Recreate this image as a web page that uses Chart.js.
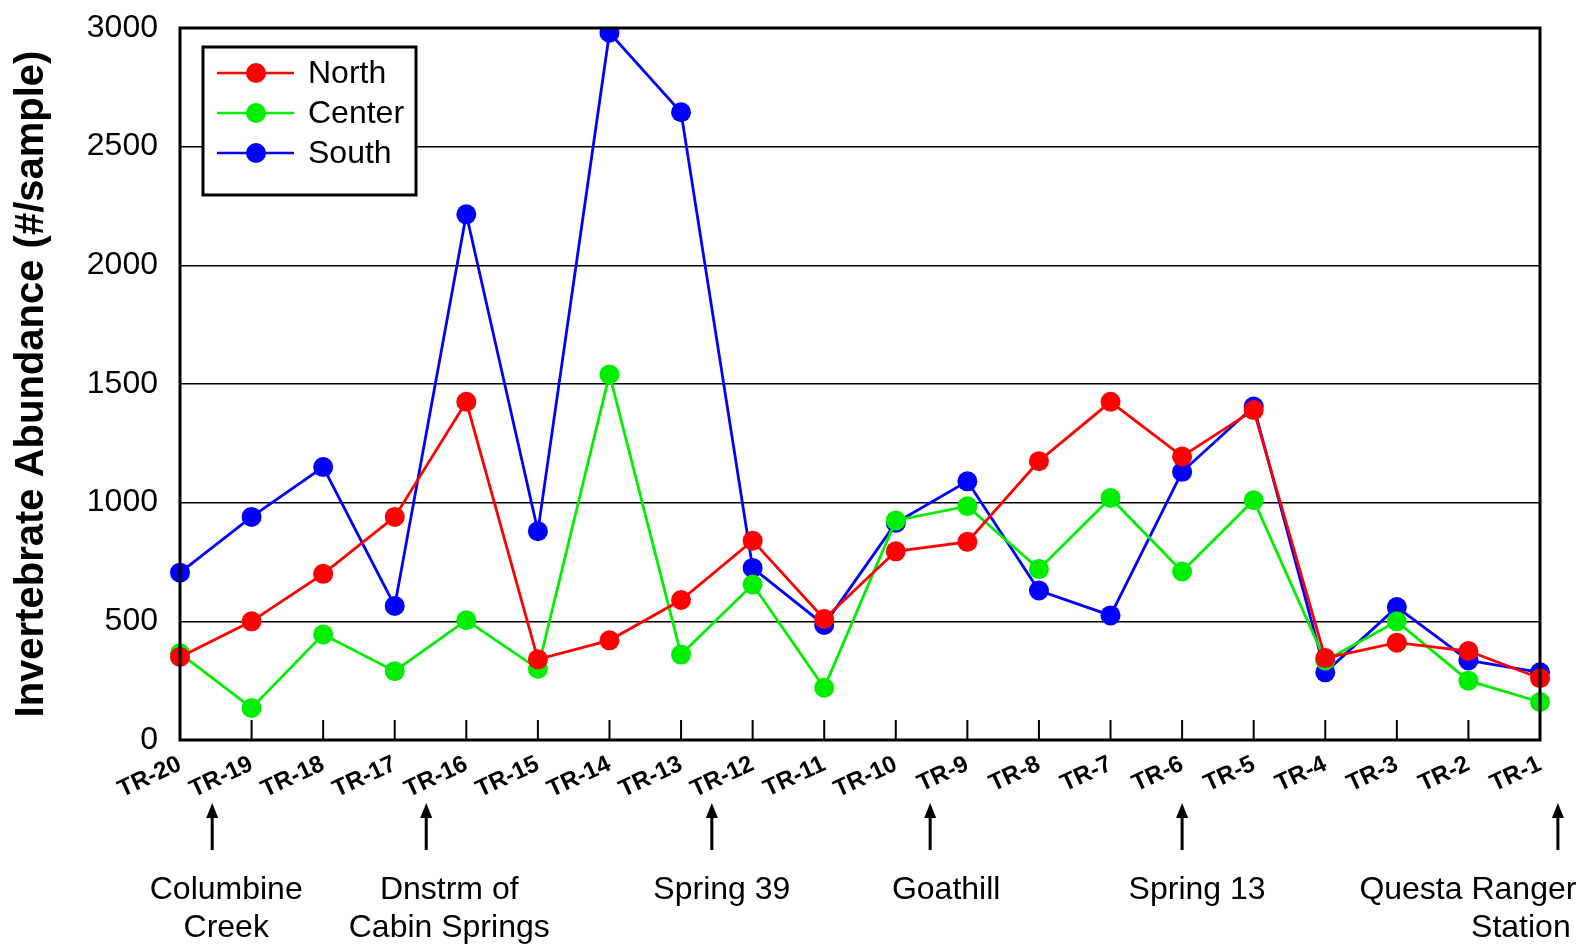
<!DOCTYPE html>
<html>
<head>
<meta charset="utf-8">
<script src="https://cdn.jsdelivr.net/npm/chart.js@4"></script>
<style>
  body { margin: 0; background: #fff; }
  canvas { display: block; }
</style>
</head>
<body>
<canvas id="abundanceChart" width="1587" height="947"></canvas>
<script>
const sites = ["TR-20", "TR-19", "TR-18", "TR-17", "TR-16", "TR-15", "TR-14", "TR-13", "TR-12", "TR-11",
    "TR-10", "TR-9", "TR-8", "TR-7", "TR-6", "TR-5", "TR-4", "TR-3", "TR-2", "TR-1"]

const north = [350, 500, 700, 940, 1425, 340, 420, 590, 840, 510, 795, 835, 1175, 1425, 1195, 1390, 345, 410, 375, 260]
const center = [365, 135, 445, 290, 505, 300, 1540, 360, 655, 220, 925, 985, 720, 1020, 710, 1010, 335, 500, 250, 160]
const south = [705, 940, 1150, 565, 2215, 880, 2980, 2645, 725, 485, 915, 1090, 630, 525, 1130, 1405, 285, 560, 335, 285]

const yTicks = [0, 500, 1000, 1500, 2000, 2500, 3000]

// landmarks under the axis: label lines and where the arrow points (in site index units)
const landmarks = [
    ["Columbine", "Creek"],
    ["Dnstrm of", "Cabin Springs"],
    ["Spring 39"],
    ["Goathill"],
    ["Spring 13"],
    ["Questa Ranger", "Station"]
]
const landmarkAt = [0.45, 3.44, 7.43, 10.48, 14, 19.25]

const FONT = "'Liberation Sans', Arial, sans-serif"

const series = [
    { label: "North", data: north, color: "#ff0000" },
    { label: "Center", data: center, color: "#00ee00" },
    { label: "South", data: south, color: "#0000ff" }
]

function indexToPixel(scale, pos) {
    const i = Math.floor(pos)
    const a = scale.getPixelForValue(i)
    const b = scale.getPixelForValue(i + 1)
    return a + (b - a) * (pos - i)
}

const framePlugin = {
    id: "frame",
    afterDatasetsDraw(chart) {
        const ctx = chart.ctx
        const area = chart.chartArea
        const x = chart.scales.x

        ctx.save()
        ctx.strokeStyle = "#000"

        // little ticks pointing up into the plot
        ctx.lineWidth = 2
        ctx.beginPath()
        sites.forEach((s, i) => {
            const px = x.getPixelForValue(i)
            ctx.moveTo(px, area.bottom)
            ctx.lineTo(px, area.bottom - 20)
        })
        ctx.stroke()

        ctx.lineWidth = 3
        ctx.strokeRect(area.left, area.top, area.right - area.left, area.bottom - area.top)

        // legend box
        const bx = 203, by = 47, bw = 213, bh = 148
        ctx.fillStyle = "#fff"
        ctx.fillRect(bx, by, bw, bh)
        ctx.strokeRect(bx, by, bw, bh)
        ctx.font = "32px " + FONT
        ctx.textBaseline = "middle"
        ctx.textAlign = "left"
        series.forEach((s, i) => {
            const ly = 73 + i * 40
            ctx.strokeStyle = s.color
            ctx.lineWidth = 2.5
            ctx.beginPath()
            ctx.moveTo(217, ly)
            ctx.lineTo(294, ly)
            ctx.stroke()
            ctx.fillStyle = s.color
            ctx.beginPath()
            ctx.arc(256, ly, 10, 0, Math.PI * 2)
            ctx.fill()
            ctx.fillStyle = "#000"
            ctx.fillText(s.label, 308, ly + 1)
        })
        ctx.restore()
    },
    afterDraw(chart) {
        const ctx = chart.ctx
        const x = chart.scales.x
        const textShift = [[14, 14], [23, 23], [10], [16], [15], [-90, -37]]

        ctx.save()
        ctx.fillStyle = "#000"
        ctx.strokeStyle = "#000"
        ctx.font = "32px " + FONT
        ctx.textAlign = "center"
        ctx.textBaseline = "middle"
        landmarks.forEach((lines, k) => {
            const ax = indexToPixel(x, landmarkAt[k])
            ctx.lineWidth = 3
            ctx.beginPath()
            ctx.moveTo(ax, 850)
            ctx.lineTo(ax, 814)
            ctx.stroke()
            ctx.beginPath()
            ctx.moveTo(ax, 803)
            ctx.lineTo(ax - 6, 818)
            ctx.lineTo(ax + 6, 818)
            ctx.closePath()
            ctx.fill()
            lines.forEach((t, j) => {
                ctx.fillText(t, ax + textShift[k][j], 890 + j * 38)
            })
        })
        ctx.restore()
    }
}

new Chart(document.getElementById("abundanceChart"), {
    type: "line",
    data: {
        labels: sites,
        datasets: series.map(s => ({
            label: s.label,
            data: s.data,
            borderColor: s.color,
            backgroundColor: s.color,
            pointBackgroundColor: s.color,
            pointBorderWidth: 0,
            pointRadius: 10,
            borderWidth: 2.8,
            tension: 0
        }))
    },
    options: {
        responsive: false,
        animation: false,
        devicePixelRatio: 1,
        layout: {
            padding: { top: 28, right: 47, bottom: 0, left: 0 }
        },
        scales: {
            x: {
                offset: false,
                grid: { display: false },
                border: { display: false },
                ticks: {
                    color: "#000",
                    font: { family: FONT, size: 24, weight: "bold" },
                    minRotation: 25,
                    maxRotation: 25,
                    autoSkip: false,
                    padding: 2
                },
                afterFit(scale) {
                    scale.height = 207
                    scale.paddingLeft = 0
                    scale.paddingRight = 0
                }
            },
            y: {
                min: 0,
                max: 3000,
                afterBuildTicks(scale) {
                    scale.ticks = yTicks.map(v => ({ value: v }))
                },
                grid: { color: "#000", lineWidth: 1.5, drawTicks: false },
                border: { display: false },
                ticks: {
                    color: "#000",
                    font: { family: FONT, size: 32 },
                    padding: 22,
                    callback: function(value) {
                        return String(value)
                    }
                },
                title: {
                    display: true,
                    text: "Invertebrate Abundance (#/sample)",
                    color: "#000",
                    font: { family: FONT, size: 40, weight: "bold" },
                    padding: { top: 8, bottom: 0 }
                },
                afterFit(scale) {
                    scale.width = 180
                    scale.paddingTop = 0
                    scale.paddingBottom = 0
                }
            }
        },
        plugins: {
            legend: { display: false },
            tooltip: { enabled: false }
        }
    },
    plugins: [framePlugin]
})
</script>
</body>
</html>
